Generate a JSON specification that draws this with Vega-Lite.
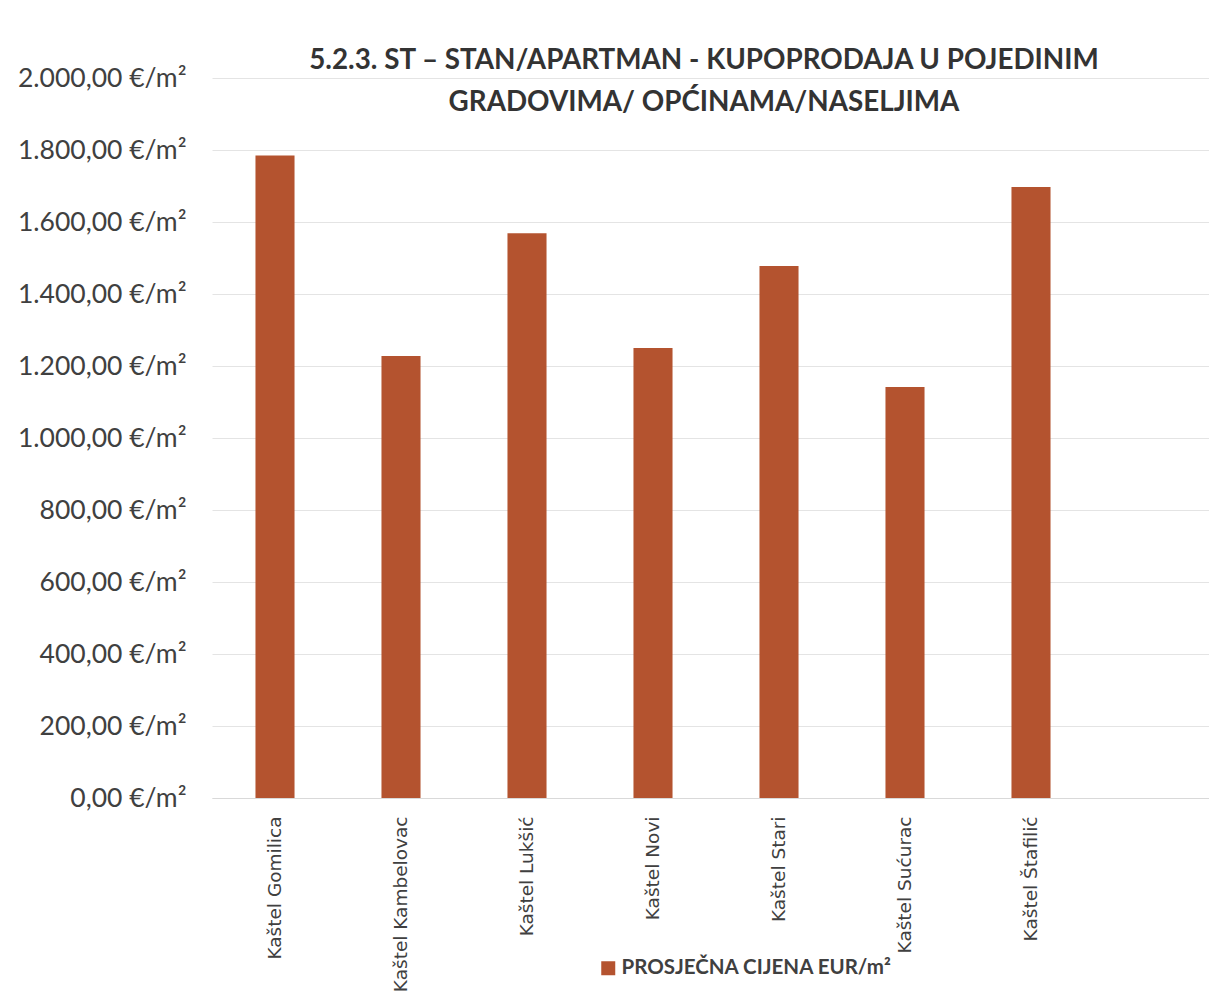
{
  "$schema": "https://vega.github.io/schema/vega-lite/v6.json",
  "autosize": {"type": "none"},
  "padding": {"left": 212, "top": 78, "right": 0, "bottom": 200},
  "width": 1008,
  "height": 720,
  "background": "white",
  "title": {
    "text": ["5.2.3. ST – STAN/APARTMAN - KUPOPRODAJA U POJEDINIM", "GRADOVIMA/ OPĆINAMA/NASELJIMA"],
    "font": "Lato",
    "fontSize": 27.8,
    "fontWeight": "bold",
    "color": "#333333",
    "anchor": "middle",
    "frame": "group",
    "offset": -52,
    "dx": -12,
    "lineHeight": 42
  },
  "data": {
    "values": [
      {"naselje": "Kaštel Gomilica", "cijena": 1785, "serija": "PROSJEČNA CIJENA EUR/m²"},
      {"naselje": "Kaštel Kambelovac", "cijena": 1228, "serija": "PROSJEČNA CIJENA EUR/m²"},
      {"naselje": "Kaštel Lukšić", "cijena": 1569, "serija": "PROSJEČNA CIJENA EUR/m²"},
      {"naselje": "Kaštel Novi", "cijena": 1250, "serija": "PROSJEČNA CIJENA EUR/m²"},
      {"naselje": "Kaštel Stari", "cijena": 1478, "serija": "PROSJEČNA CIJENA EUR/m²"},
      {"naselje": "Kaštel Sućurac", "cijena": 1142, "serija": "PROSJEČNA CIJENA EUR/m²"},
      {"naselje": "Kaštel Štafilić", "cijena": 1697, "serija": "PROSJEČNA CIJENA EUR/m²"}
    ]
  },
  "mark": {"type": "bar"},
  "encoding": {
    "x": {
      "field": "naselje",
      "type": "nominal",
      "sort": null,
      "scale": {
        "domain": ["Kaštel Gomilica", "Kaštel Kambelovac", "Kaštel Lukšić", "Kaštel Novi", "Kaštel Stari", "Kaštel Sućurac", "Kaštel Štafilić", " "],
        "paddingInner": 0.69,
        "paddingOuter": 0.345
      },
      "axis": {
        "title": null,
        "labelAngle": -90,
        "labelFont": "DejaVu Sans",
        "labelFontSize": 18.5,
        "labelColor": "#404040",
        "labelPadding": 18,
        "labelLimit": 300,
        "ticks": false,
        "domain": true,
        "domainColor": "#D9D9D9",
        "grid": false
      }
    },
    "y": {
      "field": "cijena",
      "type": "quantitative",
      "scale": {"domain": [0, 2000]},
      "axis": {
        "title": null,
        "values": [0, 200, 400, 600, 800, 1000, 1200, 1400, 1600, 1800, 2000],
        "labelExpr": "replace(replace(replace(format(datum.value, ',.2f'), ',', '#'), '.', ','), '#', '.') + ' €/m²'",
        "labelFont": "Lato",
        "labelFontSize": 26.5,
        "labelColor": "#404040",
        "labelPadding": 26,
        "ticks": false,
        "domain": false,
        "grid": true,
        "gridColor": "#E4E4E4",
        "gridWidth": 1
      }
    },
    "color": {
      "field": "serija",
      "type": "nominal",
      "scale": {"range": ["#B4532F"]},
      "legend": {
        "title": null,
        "orient": "none",
        "legendX": 386,
        "legendY": 880,
        "symbolType": "square",
        "symbolSize": 196,
        "symbolStrokeWidth": 0,
        "labelFont": "Lato",
        "labelFontSize": 20.5,
        "labelFontWeight": "bold",
        "labelColor": "#404040",
        "labelOffset": 3,
        "labelLimit": 500
      }
    }
  },
  "config": {"view": {"stroke": null}}
}
